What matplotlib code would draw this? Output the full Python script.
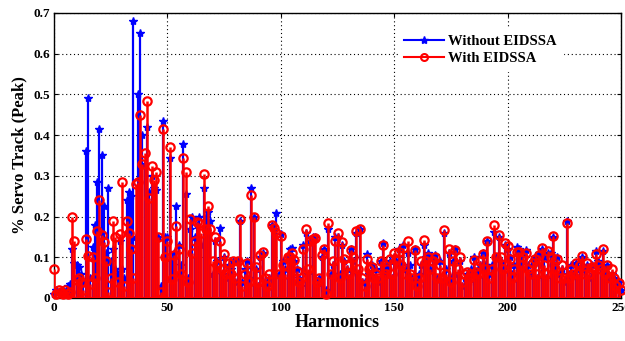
import numpy as np
import matplotlib
matplotlib.use("Agg")
import matplotlib.pyplot as plt
from matplotlib.lines import Line2D

harmonics = list(range(0, 251))

without_eidssa = [
    0.01, 0.02, 0.015, 0.01, 0.02, 0.015, 0.03, 0.035, 0.12, 0.085,      # 0-9
    0.08, 0.077, 0.06, 0.04, 0.36, 0.49, 0.05, 0.125, 0.18, 0.285,       # 10-19
    0.415, 0.35, 0.225, 0.11, 0.27, 0.09, 0.12, 0.07, 0.06, 0.14,        # 20-29
    0.07, 0.05, 0.24, 0.26, 0.25, 0.68, 0.15, 0.50, 0.65, 0.40,          # 30-39
    0.33, 0.42, 0.26, 0.30, 0.27, 0.265, 0.15, 0.03, 0.435, 0.15,        # 40-49
    0.15, 0.345, 0.09, 0.11, 0.225, 0.13, 0.08, 0.378, 0.255, 0.05,      # 50-59
    0.17, 0.20, 0.15, 0.18, 0.20, 0.13, 0.27, 0.20, 0.21, 0.19,          # 60-69
    0.06, 0.14, 0.09, 0.172, 0.06, 0.10, 0.05, 0.08, 0.07, 0.09,         # 70-79
    0.04, 0.09, 0.19, 0.04, 0.07, 0.09, 0.05, 0.27, 0.20, 0.07,          # 80-89
    0.03, 0.10, 0.11, 0.04, 0.03, 0.05, 0.18, 0.17, 0.208, 0.06,         # 90-99
    0.157, 0.09, 0.07, 0.10, 0.12, 0.124, 0.09, 0.07, 0.05, 0.03,        # 100-109
    0.13, 0.16, 0.06, 0.14, 0.15, 0.15, 0.03, 0.05, 0.10, 0.12,          # 110-119
    0.02, 0.17, 0.06, 0.08, 0.15, 0.15, 0.06, 0.13, 0.09, 0.07,          # 120-129
    0.05, 0.12, 0.09, 0.16, 0.06, 0.17, 0.04, 0.04, 0.107, 0.06,         # 130-139
    0.08, 0.05, 0.07, 0.04, 0.09, 0.135, 0.07, 0.08, 0.09, 0.05,         # 140-149
    0.10, 0.09, 0.12, 0.08, 0.13, 0.07, 0.11, 0.08, 0.05, 0.12,          # 150-159
    0.04, 0.06, 0.08, 0.13, 0.10, 0.11, 0.07, 0.10, 0.106, 0.05,         # 160-169
    0.09, 0.04, 0.16, 0.07, 0.11, 0.05, 0.09, 0.12, 0.06, 0.09,          # 170-179
    0.03, 0.05, 0.06, 0.04, 0.07, 0.10, 0.05, 0.07, 0.08, 0.11,          # 180-189
    0.08, 0.14, 0.06, 0.08, 0.163, 0.10, 0.15, 0.09, 0.07, 0.13,         # 190-199
    0.12, 0.10, 0.06, 0.08, 0.125, 0.12, 0.09, 0.11, 0.118, 0.08,        # 200-209
    0.06, 0.09, 0.10, 0.05, 0.11, 0.12, 0.10, 0.05, 0.11, 0.11,          # 210-219
    0.15, 0.08, 0.10, 0.06, 0.07, 0.04, 0.19, 0.06, 0.08, 0.06,          # 220-229
    0.085, 0.05, 0.07, 0.10, 0.07, 0.08, 0.05, 0.08, 0.06, 0.115,        # 230-239
    0.09, 0.08, 0.115, 0.07, 0.08, 0.05, 0.06, 0.05, 0.03, 0.04,         # 240-249
    0.02,                                                                # 250
]

with_eidssa = [
    0.07, 0.01, 0.02, 0.015, 0.01, 0.02, 0.01, 0.015, 0.20, 0.14,        # 0-9
    0.045, 0.05, 0.04, 0.02, 0.145, 0.103, 0.035, 0.10, 0.05, 0.165,     # 10-19
    0.24, 0.155, 0.138, 0.09, 0.015, 0.05, 0.19, 0.15, 0.04, 0.157,      # 20-29
    0.285, 0.03, 0.19, 0.16, 0.12, 0.05, 0.28, 0.285, 0.45, 0.33,        # 30-39
    0.357, 0.485, 0.245, 0.325, 0.29, 0.31, 0.15, 0.015, 0.415, 0.10,    # 40-49
    0.14, 0.37, 0.047, 0.105, 0.177, 0.12, 0.06, 0.345, 0.31, 0.04,      # 50-59
    0.194, 0.11, 0.14, 0.187, 0.184, 0.16, 0.305, 0.17, 0.225, 0.17,     # 60-69
    0.09, 0.15, 0.08, 0.14, 0.07, 0.108, 0.06, 0.085, 0.06, 0.09,        # 70-79
    0.05, 0.09, 0.194, 0.03, 0.06, 0.086, 0.04, 0.253, 0.20, 0.076,      # 80-89
    0.04, 0.105, 0.112, 0.05, 0.03, 0.06, 0.18, 0.172, 0.16, 0.06,       # 90-99
    0.152, 0.08, 0.06, 0.10, 0.10, 0.11, 0.093, 0.067, 0.04, 0.05,       # 100-109
    0.12, 0.169, 0.07, 0.14, 0.145, 0.147, 0.04, 0.05, 0.106, 0.12,      # 110-119
    0.01, 0.185, 0.06, 0.09, 0.14, 0.16, 0.05, 0.137, 0.095, 0.08,       # 120-129
    0.06, 0.117, 0.10, 0.165, 0.07, 0.17, 0.05, 0.03, 0.095, 0.07,       # 130-139
    0.077, 0.05, 0.06, 0.05, 0.09, 0.13, 0.06, 0.07, 0.096, 0.06,        # 140-149
    0.11, 0.093, 0.113, 0.08, 0.124, 0.06, 0.14, 0.06, 0.05, 0.118,      # 150-159
    0.03, 0.05, 0.09, 0.142, 0.09, 0.10, 0.07, 0.09, 0.10, 0.05,         # 160-169
    0.08, 0.05, 0.167, 0.06, 0.12, 0.04, 0.09, 0.118, 0.07, 0.10,        # 170-179
    0.04, 0.06, 0.065, 0.05, 0.06, 0.093, 0.065, 0.06, 0.09, 0.108,      # 180-189
    0.07, 0.14, 0.05, 0.07, 0.18, 0.10, 0.154, 0.10, 0.07, 0.134,        # 190-199
    0.127, 0.097, 0.05, 0.07, 0.112, 0.112, 0.08, 0.10, 0.11, 0.07,      # 200-209
    0.06, 0.085, 0.097, 0.06, 0.105, 0.124, 0.08, 0.06, 0.115, 0.10,     # 210-219
    0.152, 0.07, 0.095, 0.05, 0.08, 0.05, 0.185, 0.05, 0.07, 0.06,       # 220-229
    0.087, 0.06, 0.08, 0.103, 0.06, 0.085, 0.06, 0.077, 0.07, 0.107,     # 230-239
    0.08, 0.07, 0.121, 0.06, 0.08, 0.05, 0.07, 0.05, 0.03, 0.036,        # 240-249
    0.02,                                                                # 250
]

x_ticks = [0, 50, 100, 150, 200, 250]
y_ticks = [0, 0.1, 0.2, 0.3, 0.4, 0.5, 0.6, 0.7]
y_tick_labels = ["0", "0.1", "0.2", "0.3", "0.4", "0.5", "0.6", "0.7"]

serif = ["Liberation Serif", "DejaVu Serif"]
plt.rcParams["font.family"] = serif
plt.rcParams["font.weight"] = "bold"

fig = plt.figure(figsize=(6.25, 3.41), dpi=100)
ax = fig.add_axes([0.0864, 0.1261, 0.9072, 0.8358])

h = np.array(harmonics)
b = np.array(without_eidssa)
r = np.array(with_eidssa)

ax.vlines(h, 0, b, color=(0, 0, 1), lw=1.6, zorder=3)
ax.plot(h, b, linestyle="none", marker="*", ms=6, color=(0, 0, 1),
        mec=(0, 0, 1), zorder=4, clip_on=False)
ax.vlines(h, 0, r, color=(1, 0, 0), lw=1.8, zorder=5)
ax.plot(h, r, linestyle="none", marker="o", ms=6, mfc="none",
        mec=(1, 0, 0), mew=1.6, zorder=6, clip_on=False)
ax.axhline(0, color=(1, 0, 0), lw=1.5, zorder=6)

ax.set_xlim(0, 250)
ax.set_ylim(0, 0.7)
ax.set_xticks(x_ticks)
ax.set_yticks(y_ticks)
ax.set_yticklabels(y_tick_labels)
ax.tick_params(direction="in", labelsize=9.5, length=3, width=0.8,
               top=True, right=True, pad=3)
for lab in ax.get_xticklabels() + ax.get_yticklabels():
    lab.set_fontweight("bold")
ax.grid(True, linestyle=(0, (1, 2.5)), color="black", lw=0.8)
ax.set_axisbelow(True)
for sp in ax.spines.values():
    sp.set_linewidth(1.0)

ax.set_xlabel("Harmonics", fontsize=13, fontweight="bold", labelpad=0)
ax.set_ylabel("% Servo Track (Peak)", fontsize=12, fontweight="bold", labelpad=4)

handles = [
    Line2D([], [], color=(0, 0, 1), lw=1.5, marker="*", ms=6),
    Line2D([], [], color=(1, 0, 0), lw=1.5, marker="o", ms=5, mfc="none", mew=1.5),
]
leg = ax.legend(handles, ["Without EIDSSA", "With EIDSSA"],
                loc="upper left", bbox_to_anchor=(0.595, 0.97),
                prop={"family": serif, "weight": "bold", "size": 10.5},
                frameon=True, fancybox=False, edgecolor="white",
                framealpha=1, handlelength=2.7, handletextpad=0.3,
                borderpad=0.4, labelspacing=0.3)
leg.set_zorder(10)

fig.savefig("out.png", dpi=100)
